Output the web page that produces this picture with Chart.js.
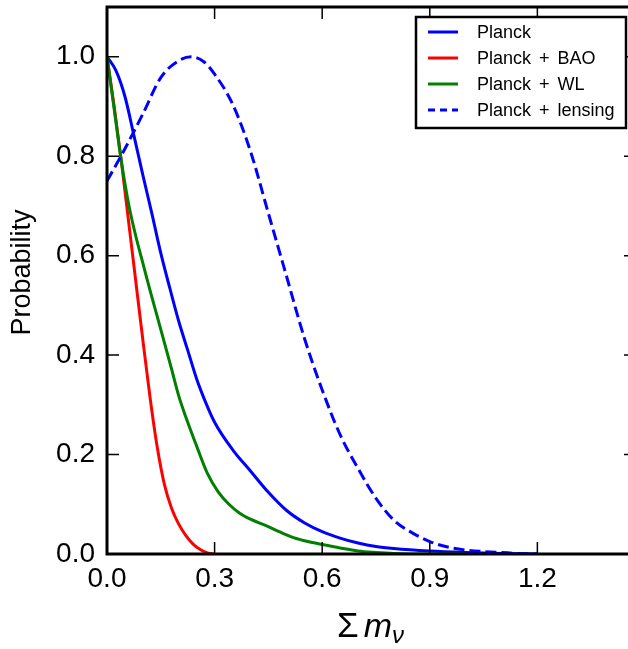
<!DOCTYPE html>
<html>
<head>
<meta charset="utf-8">
<script src="https://cdn.jsdelivr.net/npm/chart.js@4.4.0/dist/chart.umd.min.js"></script>
<style>
html, body { margin: 0; padding: 0; background: #fff; overflow: hidden; }
#wrap { width: 645px; height: 649px; }
</style>
</head>
<body>
<div id="wrap"><canvas id="chart"></canvas></div>
<script>
const FONT = '"Liberation Sans", "DejaVu Sans", sans-serif';

// axis ticks
const xTicks = [0, 0.3, 0.6, 0.9, 1.2];
const yTicks = [0, 0.2, 0.4, 0.6, 0.8, 1.0];

// Planck
const planckX = [0, 0.025, 0.05, 0.075, 0.1, 0.125, 0.15, 0.175, 0.2, 0.225, 0.25, 0.275, 0.3, 0.35, 0.4, 0.45, 0.5, 0.55, 0.6, 0.65, 0.7, 0.75, 0.8, 0.9, 1.0, 1.1, 1.2];
const planckY = [1.0, 0.972, 0.92, 0.842, 0.762, 0.685, 0.605, 0.535, 0.468, 0.41, 0.352, 0.305, 0.265, 0.21, 0.167, 0.124, 0.088, 0.063, 0.045, 0.032, 0.022, 0.015, 0.011, 0.006, 0.003, 0.001, 0];

// Planck + BAO
const baoX = [0, 0.02, 0.04, 0.06, 0.08, 0.1, 0.12, 0.14, 0.16, 0.18, 0.2, 0.22, 0.24, 0.26, 0.28, 0.3];
const baoY = [1.0, 0.90, 0.79, 0.67, 0.55, 0.43, 0.315, 0.215, 0.14, 0.092, 0.06, 0.037, 0.02, 0.009, 0.002, 0];

// Planck + WL
const wlX = [0, 0.02, 0.04, 0.06, 0.08, 0.1, 0.12, 0.14, 0.16, 0.18, 0.2, 0.22, 0.25, 0.28, 0.31, 0.34, 0.37, 0.4, 0.44, 0.48, 0.52, 0.56, 0.6, 0.65, 0.7, 0.75, 0.8, 0.9, 1.0];
const wlY = [1.0, 0.895, 0.79, 0.705, 0.64, 0.585, 0.53, 0.478, 0.425, 0.372, 0.318, 0.275, 0.217, 0.162, 0.125, 0.1, 0.082, 0.07, 0.058, 0.045, 0.033, 0.025, 0.019, 0.012, 0.006, 0.003, 0.001, 0, 0];

// Planck + lensing
const lensX = [0, 0.05, 0.1, 0.15, 0.2, 0.235, 0.27, 0.3, 0.35, 0.4, 0.45, 0.5, 0.55, 0.6, 0.65, 0.7, 0.75, 0.8, 0.85, 0.9, 0.95, 1.0, 1.05, 1.1, 1.15, 1.2];
const lensY = [0.75, 0.815, 0.885, 0.958, 0.992, 1.0, 0.99, 0.965, 0.905, 0.81, 0.685, 0.56, 0.435, 0.33, 0.24, 0.172, 0.112, 0.068, 0.043, 0.025, 0.014, 0.008, 0.005, 0.003, 0.001, 0];

const series = [
    { label: 'Planck', xs: planckX, ys: planckY, color: '#0000ff', dash: [] },
    { label: 'Planck + BAO', xs: baoX, ys: baoY, color: '#ff0000', dash: [] },
    { label: 'Planck + WL', xs: wlX, ys: wlY, color: '#008000', dash: [] },
    { label: 'Planck + lensing', xs: lensX, ys: lensY, color: '#0000ff', dash: [11, 5] }
];

// frame, inward ticks, legend and axis titles
const framePlugin = {
    id: 'frame',
    afterDatasetsDraw(chart) {
        const { ctx, chartArea: a, scales: { x, y } } = chart;
        ctx.save();
        ctx.strokeStyle = '#000';
        ctx.lineWidth = 1.5;
        ctx.beginPath();
        xTicks.forEach(v => {
            const px = x.getPixelForValue(v);
            ctx.moveTo(px, a.bottom); ctx.lineTo(px, a.bottom - 12);
            ctx.moveTo(px, a.top); ctx.lineTo(px, a.top + 12);
        });
        yTicks.forEach(v => {
            const py = y.getPixelForValue(v);
            ctx.moveTo(a.left, py); ctx.lineTo(a.left + 12, py);
            ctx.moveTo(a.right, py); ctx.lineTo(a.right - 12, py);
        });
        ctx.stroke();
        ctx.lineWidth = 3;
        ctx.strokeRect(a.left, a.top, a.right - a.left, a.bottom - a.top);

        // legend
        const lx = a.right - 220, ly = a.top + 10, lw = 210, lh = 111;
        ctx.fillStyle = '#fff';
        ctx.fillRect(lx, ly, lw, lh);
        ctx.lineWidth = 2.5;
        ctx.strokeRect(lx, ly, lw, lh);
        ctx.font = '18px ' + FONT;
        ctx.textBaseline = 'middle';
        series.forEach((s, i) => {
            const ry = ly + 15 + 26 * i;
            ctx.strokeStyle = s.color;
            ctx.lineWidth = 3;
            ctx.setLineDash(s.dash.length ? [7, 5] : []);
            ctx.beginPath();
            ctx.moveTo(lx + 12, ry); ctx.lineTo(lx + 42, ry);
            ctx.stroke();
            ctx.setLineDash([]);
            ctx.fillStyle = '#000';
            // wider gaps around "+", as in math typesetting
            const parts = s.label.split(' + ');
            let tx = lx + 61;
            ctx.fillText(parts[0], tx, ry + 1);
            if (parts.length > 1) {
                tx += ctx.measureText(parts[0]).width + 8;
                ctx.fillText('+', tx, ry + 1);
                tx += ctx.measureText('+').width + 8;
                ctx.fillText(parts[1], tx, ry + 1);
            }
        });

        // y axis title
        ctx.save();
        ctx.translate(30, (a.top + a.bottom) / 2 - 8);
        ctx.rotate(-Math.PI / 2);
        ctx.font = '27px ' + FONT;
        ctx.textAlign = 'center';
        ctx.textBaseline = 'alphabetic';
        ctx.fillText('Probability', 0, 0);
        ctx.restore();

        // x axis title: Σ m_ν
        const cx = (a.left + a.right) / 2 - 1, ty = 637;
        ctx.textBaseline = 'alphabetic';
        ctx.textAlign = 'left';
        ctx.font = '35px ' + FONT;
        const w1 = ctx.measureText('Σ').width + 5;
        ctx.font = 'italic 34px ' + FONT;
        const w2 = ctx.measureText('m').width;
        ctx.font = 'italic 24px ' + FONT;
        const w3 = ctx.measureText('ν').width;
        const sx = cx - (w1 + w2 + w3) / 2;
        ctx.font = '35px ' + FONT;
        ctx.fillText('Σ', sx, ty);
        ctx.font = 'italic 34px ' + FONT;
        ctx.fillText('m', sx + w1, ty);
        ctx.font = 'italic 24px ' + FONT;
        ctx.fillText('ν', sx + w1 + w2, ty + 6);
        ctx.restore();
    }
};

new Chart(document.getElementById('chart'), {
    type: 'line',
    data: {
        datasets: series.map((s, i) => ({
            label: s.label,
            data: s.xs.map((v, k) => ({ x: v, y: s.ys[k] })),
            borderColor: s.color,
            borderWidth: 3,
            borderDash: s.dash,
            pointRadius: 0,
            fill: false,
            cubicInterpolationMode: 'monotone',
            order: series.length - 1 - i
        }))
    },
    options: {
        responsive: true,
        maintainAspectRatio: false,
        animation: false,
        layout: { padding: { top: 7, right: 9, left: 0, bottom: 0 } },
        plugins: { legend: { display: false }, tooltip: { enabled: false } },
        scales: {
            x: {
                type: 'linear',
                min: 0,
                max: 1.475,
                grid: { display: false, drawTicks: false },
                border: { display: false },
                afterBuildTicks: scale => { scale.ticks = xTicks.map(v => ({ value: v })); },
                afterFit: scale => {
                    scale.height = 95;
                    scale.paddingLeft = 0; scale.paddingRight = 0;
                },
                ticks: {
                    padding: 8,
                    maxRotation: 0,
                    color: '#000',
                    font: { family: FONT, size: 28 },
                    callback: v => v.toFixed(1)
                }
            },
            y: {
                min: 0,
                max: 1.1,
                grid: { display: false, drawTicks: false },
                border: { display: false },
                afterBuildTicks: scale => { scale.ticks = yTicks.map(v => ({ value: v })); },
                afterFit: scale => {
                    scale.width = 107;
                    scale.paddingTop = 0; scale.paddingBottom = 0;
                },
                ticks: {
                    padding: 12,
                    color: '#000',
                    font: { family: FONT, size: 28 },
                    callback: v => v.toFixed(1)
                }
            }
        }
    },
    plugins: [framePlugin]
});
</script>
</body>
</html>
